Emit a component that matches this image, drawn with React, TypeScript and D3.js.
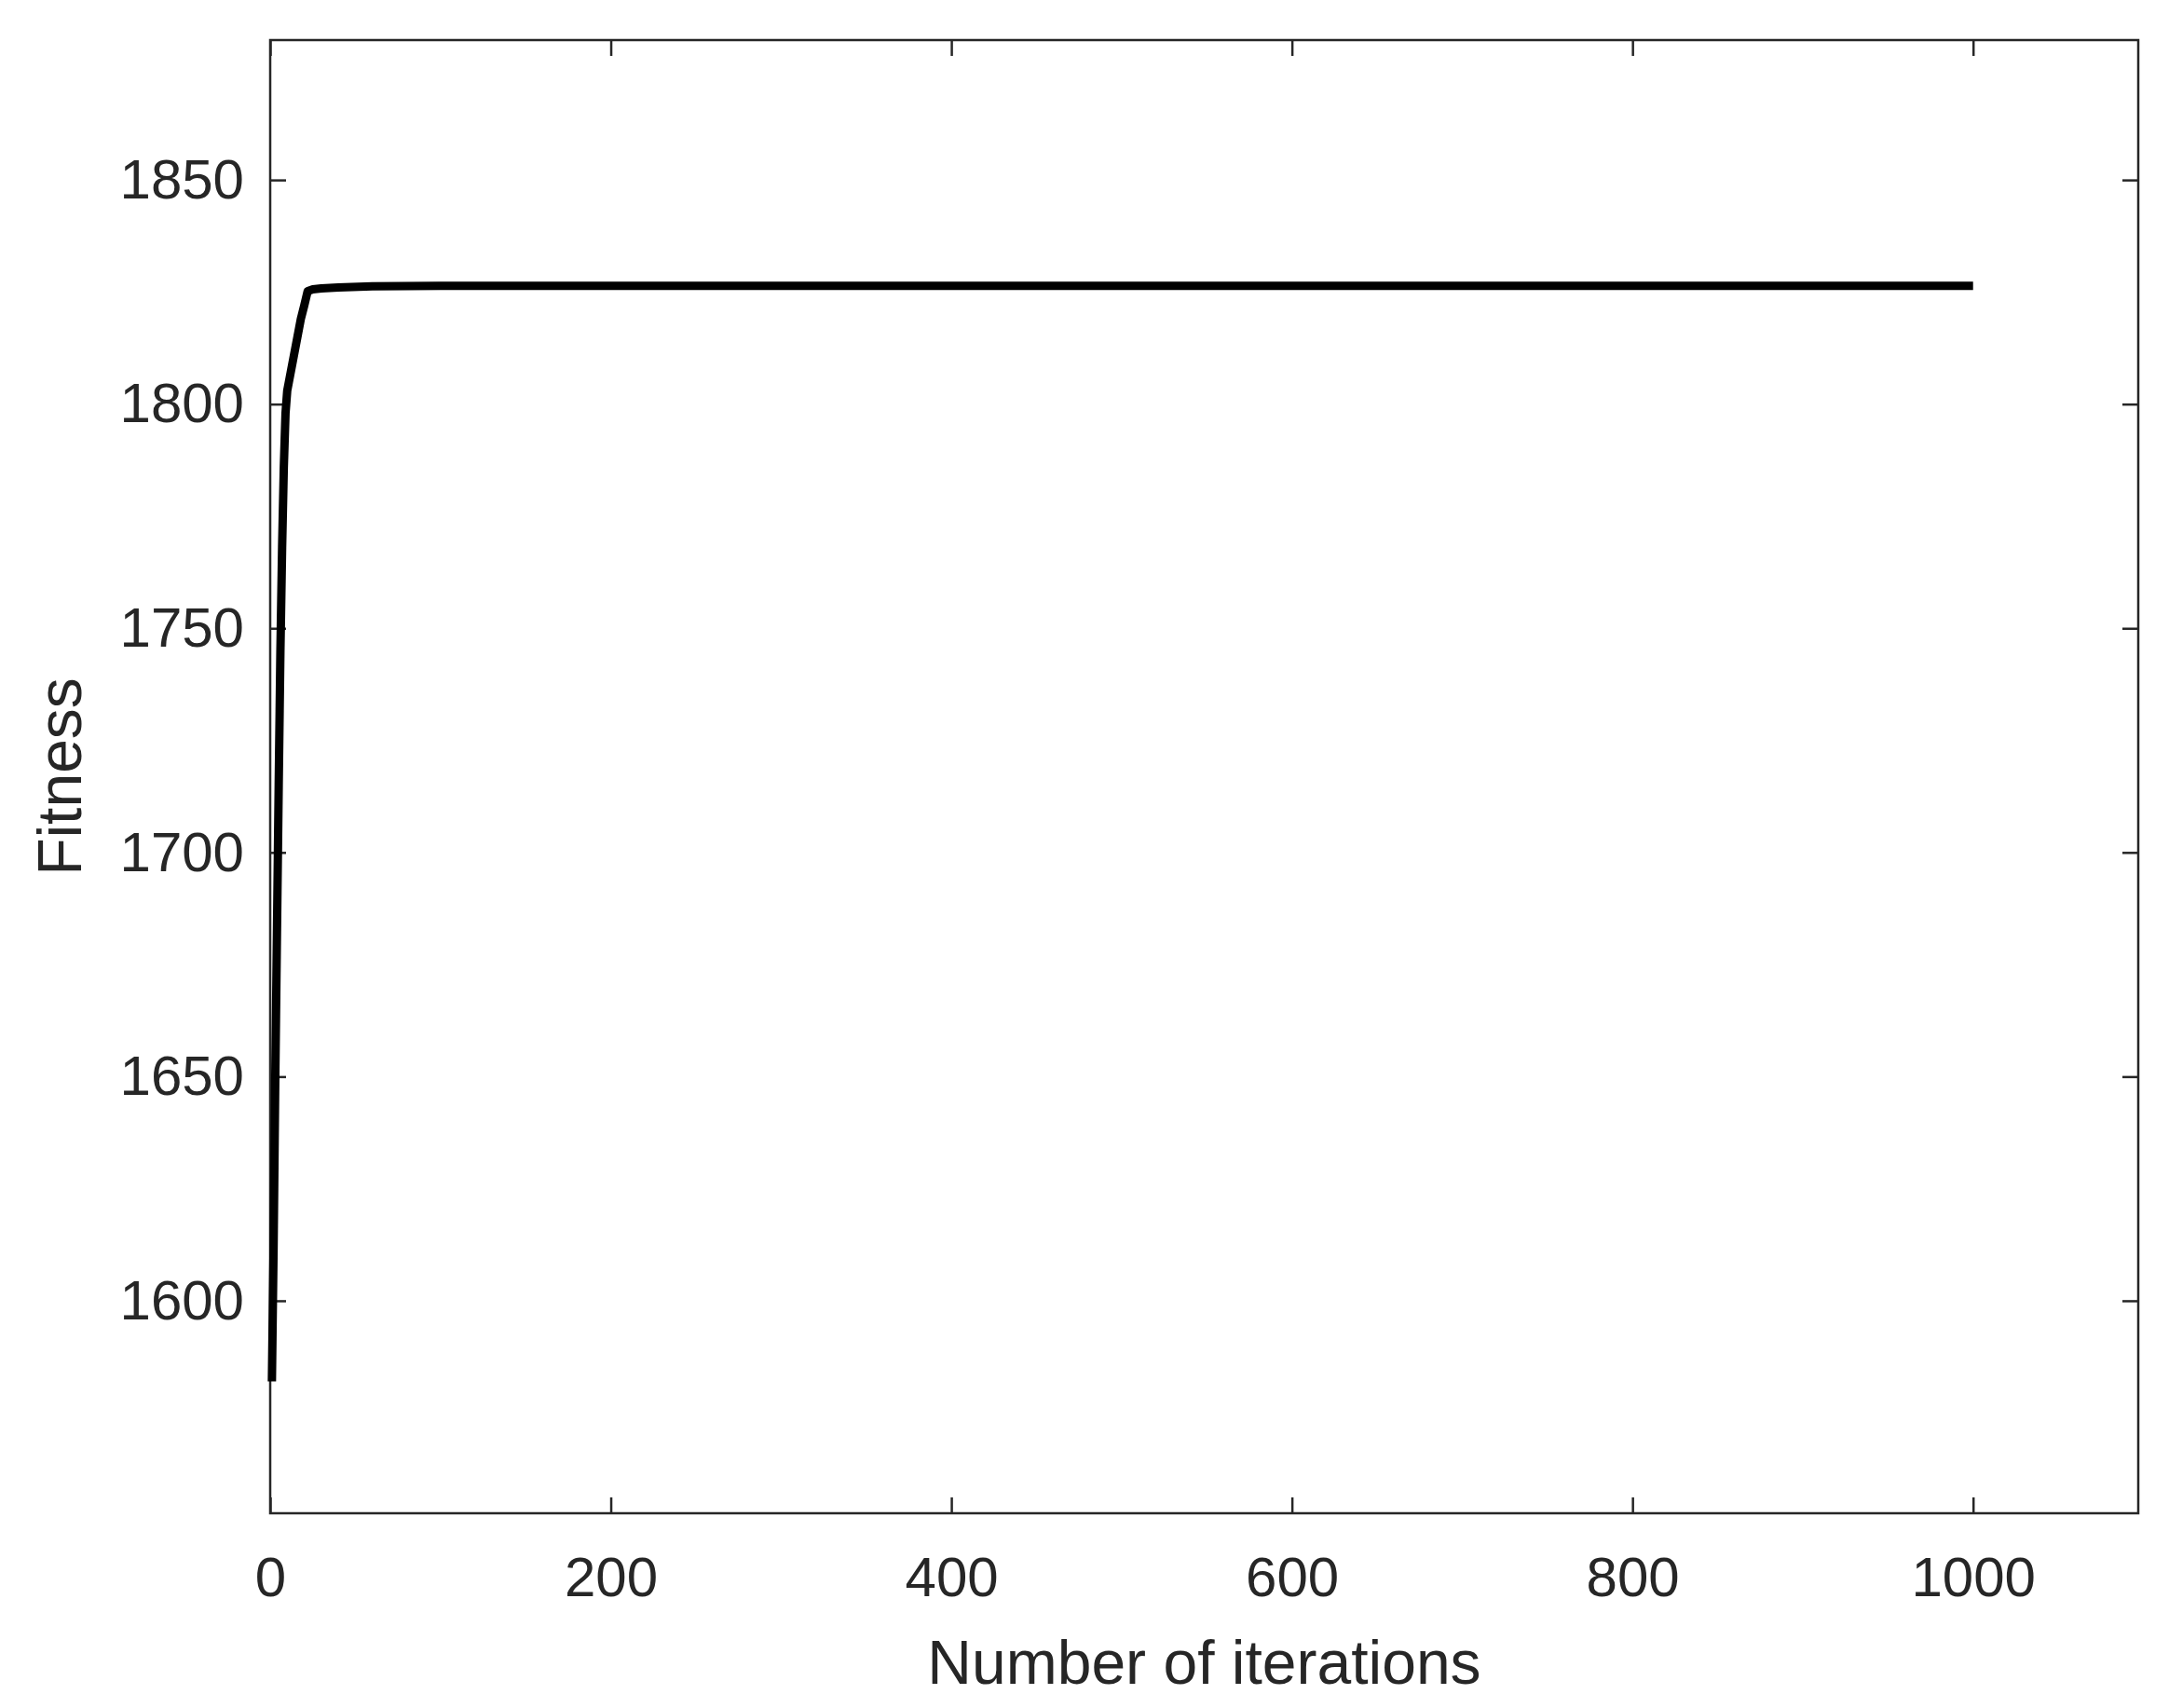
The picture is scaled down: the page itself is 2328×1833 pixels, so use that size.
import React, { useEffect, useRef } from "react";
import * as d3 from "d3";

// fitness per iteration
const iterations = [1, 2, 3, 4, 5, 6, 7, 8, 9, 10, 12, 14, 16, 18, 20, 22, 25, 30, 40, 60, 100, 1000];
const fitness = [
  1582, 1612, 1650, 1683, 1715, 1745, 1768, 1786, 1798, 1803, 1807, 1811, 1815, 1819, 1822,
  1825.2, 1825.6, 1825.8, 1826.0, 1826.3, 1826.4, 1826.4,
];

const xTicks = [0, 200, 400, 600, 800, 1000];
const yTicks = [1600, 1650, 1700, 1750, 1800, 1850];
const xDomain = [0, 1097];
const yDomain = [1552.6, 1881.2];

const W = 2328;
const H = 1833;
const ink = "#262626";
const font = "'Liberation Sans', Arial, sans-serif";

export default function App() {
  const ref = useRef<SVGSVGElement>(null);

  useEffect(() => {
    const left = 290;
    const right = 2295;
    const top = 43;
    const bottom = 1624;
    const tickLen = 17;

    const svg = d3.select(ref.current);
    svg.selectAll("*").remove();

    const x = d3.scaleLinear().domain(xDomain).range([left, right]);
    const y = d3.scaleLinear().domain(yDomain).range([bottom, top]);

    const data = iterations.map((t, i) => ({ t, f: fitness[i] }));

    // bottom axis with labels
    svg
      .append("g")
      .attr("transform", "translate(0," + bottom + ")")
      .call(d3.axisBottom(x).tickValues(xTicks).tickSize(-tickLen).tickPadding(46).tickFormat(d3.format("d")))
      .call((g) => g.select(".domain").remove());

    // top axis, ticks only
    svg
      .append("g")
      .attr("transform", "translate(0," + top + ")")
      .call(d3.axisTop(x).tickValues(xTicks).tickSize(-tickLen).tickFormat(() => ""))
      .call((g) => g.select(".domain").remove());

    // left axis with labels
    svg
      .append("g")
      .attr("transform", "translate(" + left + ",0)")
      .call(d3.axisLeft(y).tickValues(yTicks).tickSize(-tickLen).tickPadding(28).tickFormat(d3.format("d")))
      .call((g) => g.select(".domain").remove());

    // right axis, ticks only
    svg
      .append("g")
      .attr("transform", "translate(" + right + ",0)")
      .call(d3.axisRight(y).tickValues(yTicks).tickSize(-tickLen).tickFormat(() => ""))
      .call((g) => g.select(".domain").remove());

    svg.selectAll(".tick line").attr("stroke", ink).attr("stroke-width", 2.5);
    svg
      .selectAll(".tick text")
      .attr("fill", ink)
      .style("font-family", font)
      .style("font-size", "60px");

    // box
    svg
      .append("rect")
      .attr("x", left)
      .attr("y", top)
      .attr("width", right - left)
      .attr("height", bottom - top)
      .attr("fill", "none")
      .attr("stroke", ink)
      .attr("stroke-width", 2.5);

    const line = d3
      .line<{ t: number; f: number }>()
      .x((d) => x(d.t))
      .y((d) => y(d.f));

    svg
      .append("path")
      .attr("d", line(data))
      .attr("fill", "none")
      .attr("stroke", "#000")
      .attr("stroke-width", 9)
      .attr("stroke-linejoin", "round");

    // axis titles
    svg
      .append("text")
      .attr("x", (left + right) / 2)
      .attr("y", 1807)
      .attr("text-anchor", "middle")
      .attr("fill", ink)
      .style("font-family", font)
      .style("font-size", "66px")
      .text("Number of iterations");

    const cy = (top + bottom) / 2;
    svg
      .append("text")
      .attr("transform", "translate(87," + cy + ") rotate(-90)")
      .attr("text-anchor", "middle")
      .attr("fill", ink)
      .style("font-family", font)
      .style("font-size", "66px")
      .text("Fitness");
  }, []);

  return (
    <svg
      ref={ref}
      width={W}
      height={H}
      style={{ position: "absolute", left: 0, top: 0, background: "#fff" }}
    />
  );
}
